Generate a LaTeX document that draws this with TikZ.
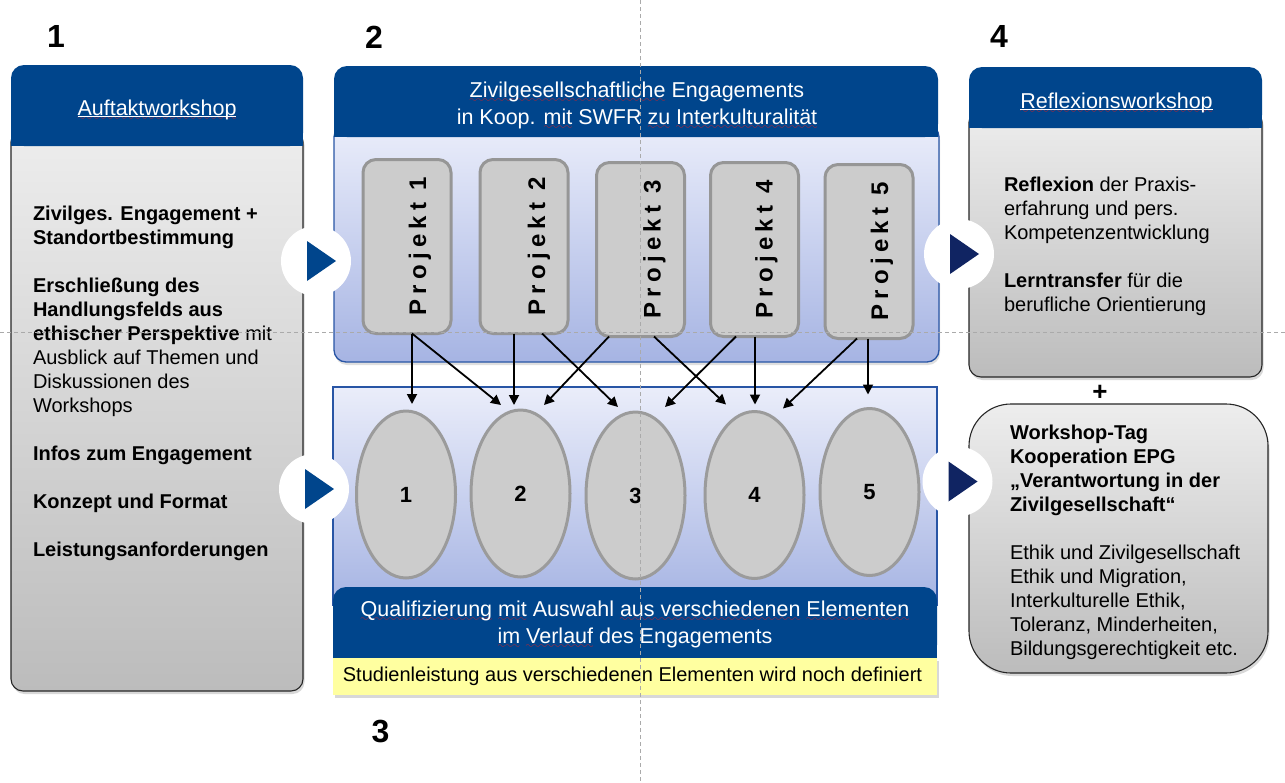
\documentclass[tikz,border=0pt]{standalone}
\usepackage{fontspec}
\setmainfont{Liberation Sans}
\usetikzlibrary{calc,shadows,shapes.geometric,arrows.meta}
\font\rwfont=lasy10
\definecolor{hdrblue}{RGB}{0,69,140}
\definecolor{navy}{RGB}{16,36,98}
\definecolor{pgray}{RGB}{204,204,204}
\definecolor{pborder}{RGB}{150,150,150}
\definecolor{eborder}{RGB}{155,155,155}
\definecolor{ltop}{RGB}{234,237,250}
\definecolor{lbot}{RGB}{166,180,227}
\definecolor{gtop}{RGB}{237,237,237}
\definecolor{gbot}{RGB}{188,188,188}
\definecolor{bblue}{RGB}{40,85,165}
\definecolor{ylw}{RGB}{255,255,160}
\definecolor{wavered}{RGB}{225,30,30}
\definecolor{guide}{RGB}{170,170,170}
\newcommand\rw[1]{\leavevmode\setbox0\hbox{#1}\rlap{\textcolor{wavered}{\lower5pt\hbox to \wd0{\xleaders\hbox{\rwfont\char58}\hfill}}}\box0\relax}
\begin{document}
\begin{tikzpicture}[x=1pt,y=-1pt,
  every node/.style={inner sep=0pt, outer sep=0pt},
  graybody/.style={rectangle, draw=black!85, line width=1.1pt, rounded corners=12pt, top color=gtop, bottom color=gbot, drop shadow={shadow xshift=1.5pt, shadow yshift=-3pt, opacity=0.3}},
  bluebody/.style={rectangle, draw=bblue, line width=1.3pt, top color=ltop, bottom color=lbot},
  hdr/.style={rectangle, fill=hdrblue, rounded corners=13pt},
  circ/.style={circle, fill=white, minimum size=70pt},
  proj/.style={rectangle, rounded corners=13pt, fill=pgray, draw=pborder, line width=3pt, minimum width=88pt, minimum height=174pt},
  projtext/.style={rotate=90, font=\fontsize{24}{24}\selectfont\bfseries\addfontfeature{LetterSpace=22}},
  ell/.style={ellipse, fill=pgray, draw=eborder, line width=3pt, minimum width=99pt, minimum height=167pt, font=\fontsize{22}{22}\selectfont\bfseries},
  conn/.style={draw=black, line width=1.8pt, -{Triangle[length=10pt,width=10pt]}},
  numlabel/.style={font=\fontsize{32}{32}\selectfont\bfseries},
  bodytext/.style={align=left, font=\fontsize{20}{24}\selectfont, anchor=north west},
  hdrtext/.style={text=white, font=\fontsize{21.5}{27}\selectfont},
]
\useasboundingbox (0,0) rectangle (1285,782);
\fill[white] (0,0) rectangle (1285,782);

% ---- left panel
\node[graybody, anchor=north west, minimum width=292pt, minimum height=561pt] (lbody) at (11,130) {};
\node[hdr, anchor=north west, minimum width=292pt, minimum height=81pt] (lhdr) at (11,65) {};
\fill[hdrblue] ($(lhdr.south west)+(0,-14)$) rectangle (lhdr.south east);
\node[hdrtext, anchor=base] (lt) at (157,115) {\rw{Auftaktworkshop}};
\draw[white, line width=1.1pt] ($(lt.base west)+(0,1.8)$) -- ($(lt.base east)+(0,1.8)$);

% ---- middle top panel
\node[bluebody, rounded corners=12pt, anchor=north west, minimum width=605pt, minimum height=237pt,
  drop shadow={shadow xshift=1pt, shadow yshift=-3pt, opacity=0.25}] (mbody) at (334,125) {};
\node[hdr, anchor=north west, minimum width=604pt, minimum height=71pt] (mhdr) at (334,66) {};
\fill[hdrblue] ($(mhdr.south west)+(0,-14)$) rectangle (mhdr.south east);
\node[hdrtext, anchor=north, align=center] (mt) at (637,81.5) {\rw{Zivilgesellschaftliche} Engagements\\ in Koop. \rw{mit} SWFR \rw{zu} \rw{Interkulturalität}};

% ---- middle lower panel
\node[bluebody, anchor=north west, minimum width=604pt, minimum height=218pt] (lowp) at (333,387) {};
\node[hdr, anchor=north west, minimum width=604pt, minimum height=71pt] (qbox) at (333,587) {};
\fill[hdrblue] ($(qbox.south west)+(0,-14)$) rectangle (qbox.south east);
\node[hdrtext, anchor=north, align=center, font=\fontsize{21.5}{26.5}\selectfont] (qt) at (635,601) {\rw{Qualifizierung} \rw{mit} Auswahl \rw{aus verschiedenen} \rw{Elementen}\\ \rw{im} \rw{Verlauf} des Engagements};
\node[rectangle, fill=ylw, anchor=north west, minimum width=604pt, minimum height=37pt,
  drop shadow={shadow xshift=1.5pt, shadow yshift=-3pt, opacity=0.3}] (ybox) at (333,658) {};
\node[anchor=base, font=\fontsize{20}{24}\selectfont] (yt) at (632.5,681.5) {Studienleistung aus verschiedenen Elementen wird noch definiert};

% ---- right top panel
\node[graybody, anchor=north west, minimum width=293pt, minimum height=267pt] (rbody) at (969,110) {};
\node[hdr, anchor=north west, minimum width=293pt, minimum height=61pt] (rhdr) at (969,67) {};
\fill[hdrblue] ($(rhdr.south west)+(0,-14)$) rectangle (rhdr.south east);
\node[hdrtext, anchor=base] (rt) at (1116.5,108) {\rw{Reflexionsworkshop}};
\draw[white, line width=1.1pt] ($(rt.base west)+(0,1.8)$) -- ($(rt.base east)+(0,1.8)$);

% ---- right bottom panel
\node[graybody, rounded corners=42pt, anchor=north west, minimum width=299pt, minimum height=269pt] (wbox) at (969,404) {};
\node[font=\fontsize{26}{26}\selectfont\bfseries] (plus) at (1100,393) {+};

% ---- projects
\node[proj] (p1) at (407,246.5) {};
\node[proj] (p2) at (524,246.5) {};
\node[proj] (p3) at (640.5,249.5) {};
\node[proj] (p4) at (754.5,249.5) {};
\node[proj] (p5) at (869,251.5) {};
\node[projtext] (p1l) at ($(p1)+(13,0)$) {Projekt 1};
\node[projtext] (p2l) at ($(p2)+(15,0)$) {Projekt 2};
\node[projtext] (p3l) at ($(p3)+(14,0)$) {Projekt 3};
\node[projtext] (p4l) at ($(p4)+(12,0)$) {Projekt 4};
\node[projtext] (p5l) at ($(p5)+(13,0)$) {Projekt 5};

% ---- ellipses
\node[ell] (e1) at (406,494.5) {1};
\node[ell] (e2) at (520.5,493.5) {2};
\node[ell] (e3) at (635.5,495.5) {3};
\node[ell] (e4) at (754.5,495) {4};
\node[ell] (e5) at (869.5,492) {5};

% ---- connectors
\draw[conn] ($(p1.south)+(5,0)$) -- ($(e1.north)+(6,-7)$);
\draw[conn] ($(p1.south)+(5,0)$) -- ($(e2.north)+(-19.5,-5)$);
\draw[conn] ($(p2.south)+(-10,0)$) -- ($(e2.north)+(-6.5,-5)$);
\draw[conn] ($(p2.south)+(18,0)$) -- ($(e3.north)+(-17.5,-5)$);
\draw[conn] ($(p3.south)+(-31.5,0)$) -- ($(e2.north)+(23.5,-5)$);
\draw[conn] ($(p3.south)+(13.5,0)$) -- ($(e4.north)+(-28.5,-7)$);
\draw[conn] ($(p4.south)+(-18.5,0)$) -- ($(e3.north)+(29.5,-5)$);
\draw[conn] ($(p4.south)+(0.5,0)$) -- ($(e4.north)+(0.5,-7)$);
\draw[conn] ($(p5.south)+(-12,0)$) -- ($(e4.north)+(28.5,-3)$);
\draw[conn] ($(p5.south)+(-1,0)$) -- ($(e5.north)+(-1.5,-14)$);

% ---- play circles
\node[circ] (c1) at (316,261) {};
\node[circ] (c2) at (314,489) {};
\node[circ] (c3) at (959,254) {};
\node[circ] (c4) at (957.5,481.5) {};
\fill[hdrblue] ($(c1)+(-9,-20)$) -- ($(c1)+(-9,20)$) -- ($(c1)+(20,0)$) -- cycle;
\fill[hdrblue] ($(c2)+(-9,-20)$) -- ($(c2)+(-9,20)$) -- ($(c2)+(20,0)$) -- cycle;
\fill[navy] ($(c3)+(-9,-20)$) -- ($(c3)+(-9,20)$) -- ($(c3)+(20,0)$) -- cycle;
\fill[navy] ($(c4)+(-9,-20)$) -- ($(c4)+(-9,20)$) -- ($(c4)+(20,0)$) -- cycle;

% ---- body texts
\node[bodytext] (ltext) at (33,205.7) {\textbf{Zivilges. Engagement +}\\
\textbf{Standortbestimmung}\\[24pt]
\textbf{Erschließung des}\\
\textbf{Handlungsfelds aus}\\
\textbf{ethischer Perspektive} mit\\
Ausblick auf Themen und\\
Diskussionen des\\
Workshops\\[24pt]
\textbf{Infos zum Engagement}\\[24pt]
\textbf{Konzept und Format}\\[24pt]
\textbf{Leistungsanforderungen}};
\node[bodytext] (rtext) at (1004,177.5) {\textbf{Reflexion} der Praxis-\\
erfahrung und pers.\\
Kompetenzentwicklung\\[24pt]
\textbf{Lerntransfer} für die\\
berufliche Orientierung};
\node[bodytext] (wtext) at (1010,424.7) {\textbf{Workshop-Tag}\\
\textbf{Kooperation EPG}\\
\textbf{„Verantwortung in der}\\
\textbf{Zivilgesellschaft“}\\[24pt]
Ethik und Zivilgesellschaft\\
Ethik und Migration,\\
Interkulturelle Ethik,\\
Toleranz, Minderheiten,\\
Bildungsgerechtigkeit etc.};

% ---- step numbers
\node[numlabel] (n1) at (56,36.5) {1};
\node[numlabel] (n2) at (374,37) {2};
\node[numlabel] (n4) at (999,36) {4};
\node[numlabel] (n3) at (380.5,731) {3};

% ---- guides
\draw[guide, line width=0.8pt, dash pattern=on 4pt off 3pt] (640,0) -- (640,782);
\draw[guide, line width=0.8pt, dash pattern=on 4pt off 3pt] (0,332.5) -- (1285,332.5);
\end{tikzpicture}
\end{document}
